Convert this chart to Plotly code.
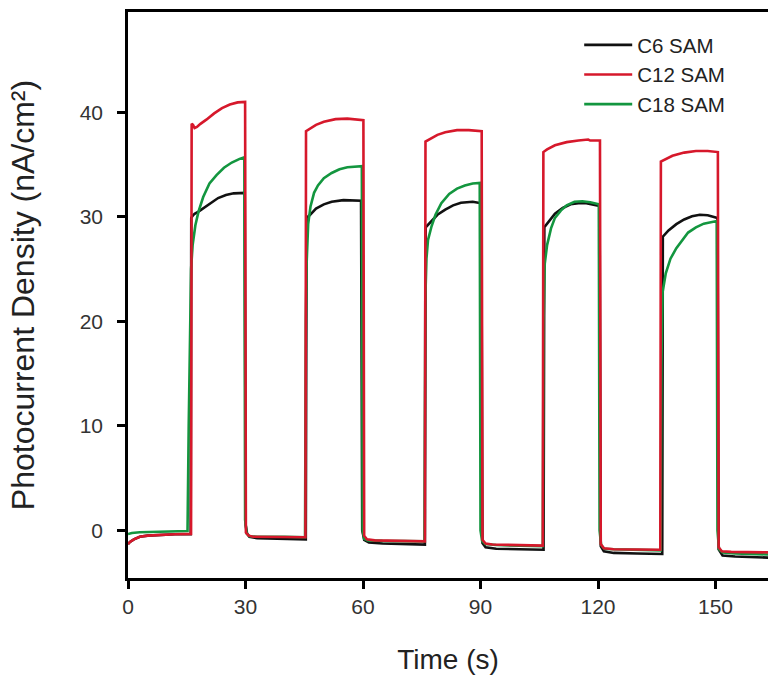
import plotly.graph_objects as go

# ---- data ----
x_ticks = [0, 30, 60, 90, 120, 150]
y_ticks = [0, 10, 20, 30, 40]

t_c6 = [0, 0.5, 1.5, 3, 5, 8, 12, 16.0,
        16.15, 16.5, 17, 18, 19.5, 21, 23, 25, 27, 29.8,
        30.05, 30.4, 31, 33, 40, 45.4,
        45.6, 46.5, 48, 50, 52, 55, 59.5,
        59.8, 60.3, 61.5, 65, 75.8,
        76.0, 77, 79, 81, 83, 85, 88, 90.2,
        90.5, 91.3, 94, 100, 106.1,
        106.3, 107.5, 109, 111, 113, 115, 117, 120.4,
        120.7, 121.5, 124, 130, 136.4,
        136.55, 138, 140, 142, 144, 146, 148, 150.5,
        150.8, 151.8, 155, 160, 163.5]
y_c6 = [-1.3, -1.1, -0.85, -0.6, -0.5, -0.42, -0.37, -0.35,
        29.9, 30.1, 30.3, 30.5, 30.9, 31.3, 31.8, 32.1, 32.25, 32.3,
        0.5, -0.3, -0.6, -0.75, -0.8, -0.85,
        29.9, 30.2, 30.8, 31.2, 31.45, 31.6, 31.55,
        0.0, -0.9, -1.15, -1.25, -1.35,
        29.0, 29.4, 30.2, 30.7, 31.1, 31.35, 31.45, 31.3,
        -1.2, -1.6, -1.75, -1.8, -1.85,
        29.0, 29.6, 30.3, 30.85, 31.2, 31.3, 31.3, 31.05,
        -1.5, -2.0, -2.15, -2.2, -2.25,
        28.1, 28.7, 29.3, 29.75, 30.05, 30.2, 30.15, 29.9,
        -1.8, -2.4, -2.5, -2.55, -2.6]

t_c12 = [0, 0.5, 1.5, 3, 5, 8, 12, 16.1,
         16.25, 16.6, 17.0, 17.6, 18.5, 20, 22, 24, 26, 28, 29.9,
         30.1, 30.8, 32, 38, 45.3,
         45.45, 46.5, 48, 50, 53, 56, 58, 60.1,
         60.3, 61, 63, 70, 75.8,
         75.95, 77, 79, 81, 84, 87, 90.3,
         90.5, 91.3, 93, 100, 105.9,
         106.05, 107, 109, 112, 115, 117.5, 118, 120.5,
         120.7, 121.5, 124, 130, 135.9,
         136.05, 137, 139, 142, 145, 148, 150.6,
         150.8, 151.6, 154, 160, 163.5]
y_c12 = [-1.3, -1.1, -0.85, -0.6, -0.5, -0.42, -0.37, -0.33,
         38.9, 38.8, 38.5, 38.6, 38.9, 39.3, 39.9, 40.4, 40.75, 40.95, 41.0,
         -0.2, -0.5, -0.6, -0.6, -0.65,
         38.2, 38.45, 38.8, 39.1, 39.35, 39.4, 39.35, 39.25,
         -0.5, -0.85, -0.95, -1.0, -1.05,
         37.2, 37.45, 37.85, 38.1, 38.3, 38.3, 38.2,
         -0.9, -1.25, -1.35, -1.4, -1.45,
         36.2, 36.45, 36.85, 37.15, 37.3, 37.4, 37.3, 37.3,
         -1.3, -1.7, -1.8, -1.8, -1.85,
         35.3, 35.5, 35.85, 36.15, 36.3, 36.3, 36.2,
         -1.6, -2.0, -2.05, -2.1, -2.1]

t_c18 = [0, 1, 3, 7, 12, 15.2,
         15.5, 15.8, 16.1, 16.5, 17.2, 18.0, 19.2, 20.8, 22.6, 24.5, 26.5, 28.5, 29.7,
         29.9, 30.3, 31, 33, 40, 45.2,
         45.4, 45.6, 46, 46.6, 47.5, 48.5, 50, 52, 54, 56, 59.7,
         59.9, 60.3, 61.2, 65, 75.7,
         75.9, 76.2, 76.6, 77.5, 78.5, 80, 82, 84, 86, 88, 89.8,
         90.0, 90.4, 91.2, 94, 100, 105.9,
         106.1, 106.4, 107, 108, 109, 110.5, 112, 114, 116, 118, 120.2,
         120.4, 120.8, 121.6, 124, 130, 136,
         136.2, 136.5, 137.3, 138.5, 140, 141.5, 143, 145, 147, 150.3,
         150.5, 150.9, 151.8, 155, 163.5]
y_c18 = [-0.35, -0.25, -0.18, -0.12, -0.08, -0.05,
         10, 19, 25, 27.3, 29.2, 30.5, 31.9, 33.2, 34.0, 34.7, 35.2, 35.55, 35.7,
         1.0, -0.3, -0.55, -0.6, -0.6, -0.65,
         20, 25.5, 29.3, 31.0, 32.3, 33.0, 33.7, 34.2, 34.55, 34.75, 34.85,
         0.0, -0.8, -0.95, -1.0, -1.05,
         22, 26, 27.8, 29.1, 30.2, 31.3, 32.2, 32.7, 33.0, 33.2, 33.25,
         0.0, -1.0, -1.3, -1.4, -1.45, -1.5,
         20, 25.5, 27.3, 28.9, 29.9, 30.6, 31.1, 31.45, 31.5, 31.4, 31.2,
         0.0, -1.4, -1.75, -1.8, -1.85, -1.9,
         16, 22.8, 24.6, 26.0, 27.0, 27.8, 28.5, 29.0, 29.35, 29.6,
         0.0, -1.8, -2.1, -2.2, -2.3]

names = ["C6 SAM", "C12 SAM", "C18 SAM"]
colors = ["#111111", "#d6182b", "#13963f"]

FONT = "Liberation Sans, Arial, Helvetica, sans-serif"

fig = go.Figure()
fig.add_trace(go.Scatter(x=t_c6, y=y_c6, mode="lines", name=names[0],
                         line=dict(color=colors[0], width=2.6), legendrank=1))
fig.add_trace(go.Scatter(x=t_c18, y=y_c18, mode="lines", name=names[2],
                         line=dict(color=colors[2], width=2.6), legendrank=3))
fig.add_trace(go.Scatter(x=t_c12, y=y_c12, mode="lines", name=names[1],
                         line=dict(color=colors[1], width=2.6), legendrank=2))

fig.update_layout(
    width=768, height=678,
    margin=dict(l=128, r=0, t=12, b=100),
    paper_bgcolor="white", plot_bgcolor="white",
    font=dict(family=FONT, color="#222222"),
    showlegend=True,
    legend=dict(x=0.705, y=0.977, xanchor="left", yanchor="top",
                bgcolor="rgba(0,0,0,0)", borderwidth=0,
                font=dict(size=20.5, color="#222222"), itemwidth=48,
                tracegroupgap=0),
)
fig.update_xaxes(range=[0, 163.4], tickvals=x_ticks, ticktext=[str(v) for v in x_ticks],
                 showgrid=False, zeroline=False, showline=True, linecolor="black",
                 linewidth=2.5, mirror=True, ticks="outside", ticklen=8, tickwidth=2.5,
                 tickcolor="black", tickfont=dict(size=21, color="#333333"),
                 title=dict(text="Time (s)", font=dict(size=28, color="#222222"), standoff=33))
fig.update_yaxes(range=[-4.55, 49.6], tickvals=y_ticks, ticktext=[str(v) for v in y_ticks],
                 showgrid=False, zeroline=False, showline=True, linecolor="black",
                 linewidth=2.5, mirror=False, ticks="outside", ticklen=8, tickwidth=2.5,
                 tickcolor="black", tickfont=dict(size=21, color="#333333"),
                 ticklabelstandoff=10,
                 title=dict(text="Photocurrent Density (nA/cm²)",
                            font=dict(size=32, color="#222222"), standoff=36))

fig.write_html("out.html")
